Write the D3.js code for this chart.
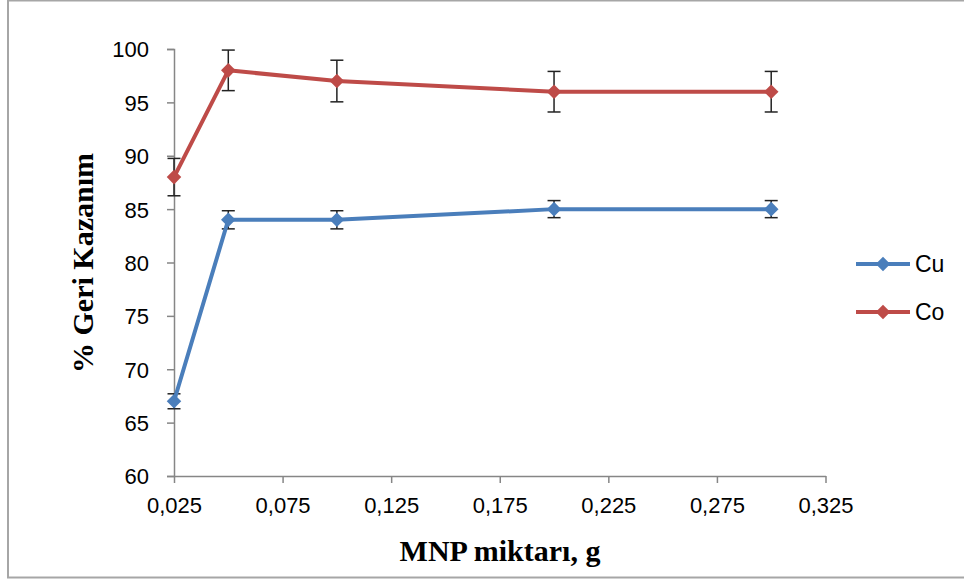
<!DOCTYPE html>
<html>
<head>
<meta charset="utf-8">
<title>MNP miktarı - % Geri Kazanım</title>
<script src="https://d3js.org/d3.v7.min.js"></script>
<style>
  body { margin: 0; background: #fff; }
  svg text { font-family: "Liberation Sans", Arial, sans-serif; fill: #000; }
  .title { font-family: "Liberation Serif", "Times New Roman", serif; font-weight: bold; }
</style>
</head>
<body>
<div id="chart"></div>
<script>
// values
var mnp = [0.025, 0.05, 0.1, 0.2, 0.3];
var cuValues = [67, 84, 84, 85, 85];
var cuErrors = [0.7, 0.85, 0.85, 0.8, 0.8];
var coValues = [88, 98, 97, 96, 96];
var coErrors = [1.75, 1.9, 1.95, 1.9, 1.9];
var xTicks = [0.025, 0.075, 0.125, 0.175, 0.225, 0.275, 0.325];
var yTicks = [60, 65, 70, 75, 80, 85, 90, 95, 100];

var series = [
  {name: "Cu", values: cuValues, errors: cuErrors, color: "#4a7ebb"},
  {name: "Co", values: coValues, errors: coErrors, color: "#be4b48"}
];

var W = 964, H = 580;
var svg = d3.select("#chart").append("svg")
  .attr("width", W).attr("height", H);

// outer chart border
svg.append("rect")
  .attr("x", 8).attr("y", 0.5)
  .attr("width", 970).attr("height", 577)
  .attr("fill", "#fff")
  .attr("stroke", "#a6a6a6").attr("stroke-width", 2);

var x = d3.scaleLinear().domain([0.025, 0.325]).range([174, 825.5]);
var y = d3.scaleLinear().domain([60, 100]).range([476, 49]);

var fmt = function(d) { return d3.format(".3f")(d).replace(".", ","); };

// y axis
var yAxis = svg.append("g")
  .attr("transform", "translate(174,0)")
  .call(d3.axisLeft(y).tickValues(yTicks).tickSize(7).tickPadding(18));
yAxis.select(".domain").attr("stroke", "#868686").attr("stroke-width", 1.5);
yAxis.selectAll(".tick line").attr("stroke", "#868686").attr("stroke-width", 1.5);
yAxis.selectAll("text").style("font-size", "22px").attr("dy", "0.36em");

// x axis
var xAxis = svg.append("g")
  .attr("transform", "translate(0,476)")
  .call(d3.axisBottom(x).tickValues(xTicks).tickFormat(fmt).tickSize(7).tickSizeOuter(0).tickPadding(14));
xAxis.select(".domain").attr("stroke", "#868686").attr("stroke-width", 1.5);
xAxis.selectAll(".tick line").attr("stroke", "#868686").attr("stroke-width", 1.5);
xAxis.selectAll("text").style("font-size", "22px");

// axis titles
svg.append("text")
  .attr("class", "title")
  .attr("x", 500).attr("y", 561)
  .attr("text-anchor", "middle")
  .style("font-size", "30px")
  .text("MNP miktarı, g");

svg.append("text")
  .attr("class", "title")
  .attr("transform", "translate(93,263) rotate(-90)")
  .attr("text-anchor", "middle")
  .style("font-size", "30px")
  .text("% Geri Kazanım");

var line = d3.line()
  .x(function(d, i) { return x(mnp[i]); })
  .y(function(d) { return y(d); });

var diamond = d3.symbol().type(d3.symbolDiamond2).size(135);

series.forEach(function(s) {
  // error bars
  var eb = svg.append("g").attr("stroke", "#222").attr("stroke-width", 1.5);
  s.values.forEach(function(v, i) {
    var cx = x(mnp[i]);
    var y1 = y(v + s.errors[i]), y2 = y(v - s.errors[i]);
    eb.append("line").attr("x1", cx).attr("x2", cx).attr("y1", y1).attr("y2", y2);
    eb.append("line").attr("x1", cx - 6.5).attr("x2", cx + 6.5).attr("y1", y1).attr("y2", y1);
    eb.append("line").attr("x1", cx - 6.5).attr("x2", cx + 6.5).attr("y1", y2).attr("y2", y2);
  });
});

series.forEach(function(s) {
  svg.append("path")
    .datum(s.values)
    .attr("d", line)
    .attr("fill", "none")
    .attr("stroke", s.color)
    .attr("stroke-width", 4)
    .attr("stroke-linejoin", "round");

  svg.selectAll(null)
    .data(s.values)
    .enter().append("path")
    .attr("d", diamond)
    .attr("transform", function(d, i) { return "translate(" + x(mnp[i]) + "," + y(d) + ")"; })
    .attr("fill", s.color);
});

// legend
var legend = svg.append("g");
series.forEach(function(s, i) {
  var ly = 264 + i * 48;
  legend.append("line")
    .attr("x1", 856).attr("x2", 910).attr("y1", ly).attr("y2", ly)
    .attr("stroke", s.color).attr("stroke-width", 4);
  legend.append("path")
    .attr("d", diamond)
    .attr("transform", "translate(883," + ly + ")")
    .attr("fill", s.color);
  legend.append("text")
    .attr("x", 915).attr("y", ly + 8)
    .style("font-size", "23px")
    .text(s.name);
});
</script>
</body>
</html>
